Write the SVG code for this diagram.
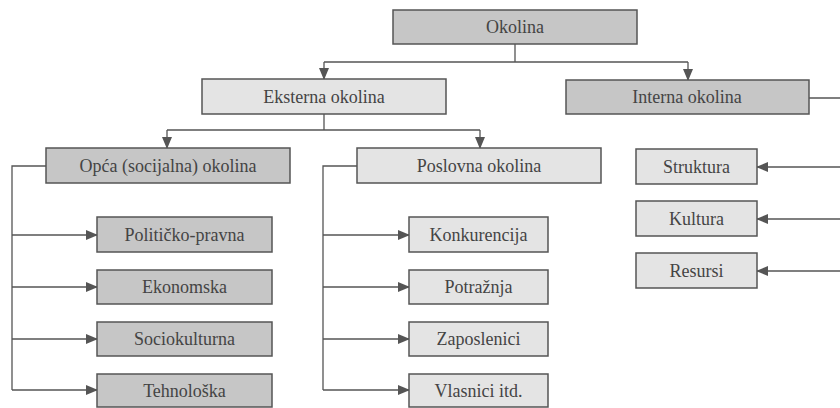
<svg xmlns="http://www.w3.org/2000/svg" width="840" height="408" viewBox="0 0 840 408">
<style>
.dark{fill:#c6c6c6;stroke:#555;stroke-width:1.5}
.light{fill:#e4e4e4;stroke:#555;stroke-width:1.5}
.c{fill:none;stroke:#555;stroke-width:1.3}
.t{font-family:'Liberation Serif','DejaVu Serif',serif;font-size:18px;fill:#444;text-anchor:middle}
</style>
<defs>
<marker id="ar" markerUnits="userSpaceOnUse" markerWidth="12" markerHeight="10" refX="11" refY="5" orient="auto">
<path d="M0,0 L12,5 L0,10 Z" fill="#555"/>
</marker>
</defs>
<rect width="840" height="408" fill="#fff"/>
<g id="connectors">
<path class="c" d="M515,44 V62 M324,62 H688"/>
<path class="c" d="M324,62 V79" marker-end="url(#ar)"/>
<path class="c" d="M688,62 V80" marker-end="url(#ar)"/>
<path class="c" d="M324,114 V130 M167,130 H480"/>
<path class="c" d="M167,130 V148" marker-end="url(#ar)"/>
<path class="c" d="M480,130 V148" marker-end="url(#ar)"/>
<path class="c" d="M46,166 H12 V390"/>
<path class="c" d="M12,235 H97" marker-end="url(#ar)"/>
<path class="c" d="M12,287 H97" marker-end="url(#ar)"/>
<path class="c" d="M12,339 H97" marker-end="url(#ar)"/>
<path class="c" d="M12,390 H97" marker-end="url(#ar)"/>
<path class="c" d="M357,166 H323 V390"/>
<path class="c" d="M323,235 H409" marker-end="url(#ar)"/>
<path class="c" d="M323,287 H409" marker-end="url(#ar)"/>
<path class="c" d="M323,339 H409" marker-end="url(#ar)"/>
<path class="c" d="M323,390 H409" marker-end="url(#ar)"/>
<path class="c" d="M809,98 H846 V271"/>
<path class="c" d="M846,167 H757" marker-end="url(#ar)"/>
<path class="c" d="M846,219 H757" marker-end="url(#ar)"/>
<path class="c" d="M846,271 H757" marker-end="url(#ar)"/>
</g>
<g id="okolina"><rect class="dark" x="393" y="10" width="244" height="34"/><text class="t" x="515" y="33">Okolina</text></g>
<g id="eksterna"><rect class="light" x="202" y="79" width="244" height="35"/><text class="t" x="324" y="103">Eksterna okolina</text></g>
<g id="interna"><rect class="dark" x="566" y="80" width="243" height="34"/><text class="t" x="687" y="103">Interna okolina</text></g>
<g id="opca"><rect class="dark" x="46" y="148" width="244" height="35"/><text class="t" x="168" y="172">Opća (socijalna) okolina</text></g>
<g id="poslovna"><rect class="light" x="357" y="148" width="244" height="35"/><text class="t" x="479" y="172">Poslovna okolina</text></g>
<g id="politicko"><rect class="dark" x="97" y="217" width="175" height="35"/><text class="t" x="184.5" y="241">Političko-pravna</text></g>
<g id="ekonomska"><rect class="dark" x="97" y="270" width="175" height="34"/><text class="t" x="184.5" y="293">Ekonomska</text></g>
<g id="sociokulturna"><rect class="dark" x="97" y="322" width="175" height="34"/><text class="t" x="184.5" y="345">Sociokulturna</text></g>
<g id="tehnoloska"><rect class="dark" x="97" y="374" width="175" height="33"/><text class="t" x="184.5" y="397">Tehnološka</text></g>
<g id="konkurencija"><rect class="light" x="409" y="217" width="139" height="35"/><text class="t" x="478.5" y="241">Konkurencija</text></g>
<g id="potraznja"><rect class="light" x="409" y="270" width="139" height="34"/><text class="t" x="478.5" y="293">Potražnja</text></g>
<g id="zaposlenici"><rect class="light" x="409" y="322" width="139" height="34"/><text class="t" x="478.5" y="345">Zaposlenici</text></g>
<g id="vlasnici"><rect class="light" x="409" y="374" width="139" height="33"/><text class="t" x="478.5" y="397">Vlasnici itd.</text></g>
<g id="struktura"><rect class="light" x="636" y="149" width="121" height="35"/><text class="t" x="696.5" y="173">Struktura</text></g>
<g id="kultura"><rect class="light" x="636" y="201" width="121" height="35"/><text class="t" x="696.5" y="225">Kultura</text></g>
<g id="resursi"><rect class="light" x="636" y="253" width="121" height="35"/><text class="t" x="696.5" y="277">Resursi</text></g>
</svg>
